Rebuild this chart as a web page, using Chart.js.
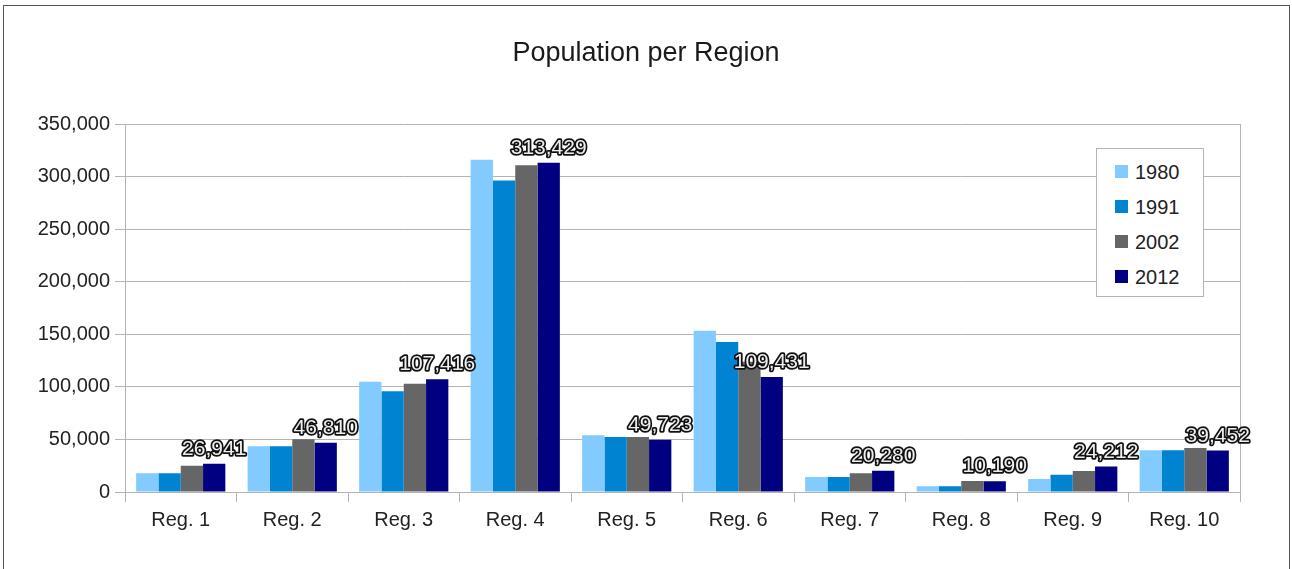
<!DOCTYPE html>
<html>
<head>
<meta charset="utf-8">
<script src="https://cdn.jsdelivr.net/npm/chart.js@4/dist/chart.umd.min.js"></script>
<style>
  html, body { margin: 0; padding: 0; background: #fff; }
  #wrap { position: relative; width: 1292px; height: 569px; overflow: hidden; }
  #frame { position: absolute; left: 3px; top: 5px; width: 1285px; height: 600px; border: 1px solid #555; pointer-events: none; }
  #legend { position: absolute; left: 1096px; top: 148px; width: 106px; height: 147px; border: 1px solid #b3b3b3; background: #fff;
            font-family: "Liberation Sans", Arial, sans-serif; font-size: 20px; color: #222; }
  .row { position: absolute; left: 18px; height: 20px; line-height: 20px; }
  .sw { display: inline-block; width: 13px; height: 13px; margin-right: 7px; vertical-align: 1px; }
</style>
</head>
<body>
<div id="wrap">
  <canvas id="chart" width="1292" height="569"></canvas>
  <div id="frame"></div>
  <div id="legend"></div>
</div>
<script>
const regions = ['Reg. 1', 'Reg. 2', 'Reg. 3', 'Reg. 4', 'Reg. 5', 'Reg. 6', 'Reg. 7', 'Reg. 8', 'Reg. 9', 'Reg. 10']
const years = ['1980', '1991', '2002', '2012']
const pop1980 = [17800, 43600, 104900, 316300, 54000, 153500, 14300, 5400, 12400, 39800]
const pop1991 = [17800, 43600, 96000, 296600, 52400, 142700, 14300, 5400, 16500, 39800]
const pop2002 = [25100, 50200, 103000, 311200, 52400, 124000, 17800, 10500, 20000, 42000]
const pop2012 = [26941, 46810, 107416, 313429, 49723, 109431, 20280, 10190, 24212, 39452]
const colors = ['#83caff', '#0084d1', '#666666', '#000080']

const fmt = (v) => v.toLocaleString('en-US')
const font = '"Liberation Sans", Arial, sans-serif'

// labels only on the 2012 series, outlined text
const valueLabels = {
    id: 'valueLabels',
    afterDatasetsDraw(chart) {
        const ctx = chart.ctx
        const meta = chart.getDatasetMeta(3)
        ctx.save()
        ctx.font = '21px ' + font
        ctx.textAlign = 'center'
        ctx.textBaseline = 'alphabetic'
        ctx.lineJoin = 'round'
        meta.data.forEach((bar, i) => {
            const txt = fmt(chart.data.datasets[3].data[i])
            ctx.lineWidth = 3.5
            ctx.strokeStyle = '#111'
            ctx.strokeText(txt, bar.x, bar.y - 9)
            ctx.fillStyle = '#eeeeee'
            ctx.fillText(txt, bar.x, bar.y - 9)
        })
        ctx.restore()
    }
}

const series = [pop1980, pop1991, pop2002, pop2012]

const chart = new Chart(document.getElementById('chart'), {
    type: 'bar',
    data: {
        labels: regions,
        datasets: years.map((y, i) => ({
            label: y,
            data: series[i],
            backgroundColor: colors[i],
            borderWidth: 0,
            categoryPercentage: 0.8,
            barPercentage: 1.0,
            yAxisID: 'y'
        }))
    },
    options: {
        responsive: false,
        animation: false,
        layout: { padding: { left: 26, right: 26, top: 0, bottom: 0 } },
        plugins: {
            legend: { display: false },
            tooltip: { enabled: false },
            title: {
                display: true,
                text: 'Population per Region',
                color: '#1a1a1a',
                font: { family: font, size: 27, weight: 'normal' },
                padding: { top: 37, bottom: 55 }
            }
        },
        scales: {
            x: {
                grid: { drawOnChartArea: false, color: '#b3b3b3', tickLength: 10, offset: true },
                border: { color: '#b3b3b3' },
                ticks: { color: '#222', font: { family: font, size: 20 }, padding: 6 },
                afterFit(s) { s.height = 77 }
            },
            y: {
                min: 0,
                max: 350000,
                grid: { color: '#b3b3b3', tickLength: 10 },
                border: { color: '#b3b3b3' },
                ticks: { stepSize: 50000, color: '#222', font: { family: font, size: 20 }, padding: 5,
                         callback: (v) => fmt(v) },
                afterFit(s) { s.width = 99 }
            },
            // right edge of the plot frame
            y2: {
                position: 'right',
                min: 0,
                max: 350000,
                grid: { drawOnChartArea: false, drawTicks: false },
                border: { color: '#b3b3b3' },
                ticks: { display: false },
                afterFit(s) { s.width = 26 }
            }
        }
    },
    plugins: [valueLabels]
})

// legend drawn as html inside the plot area
const legend = document.getElementById('legend')
years.forEach((y, i) => {
    const row = document.createElement('div')
    row.className = 'row'
    row.style.top = (13 + i * 35) + 'px'
    row.innerHTML = '<span class="sw" style="background:' + colors[i] + '"></span>' + y
    legend.appendChild(row)
})
</script>
</body>
</html>
